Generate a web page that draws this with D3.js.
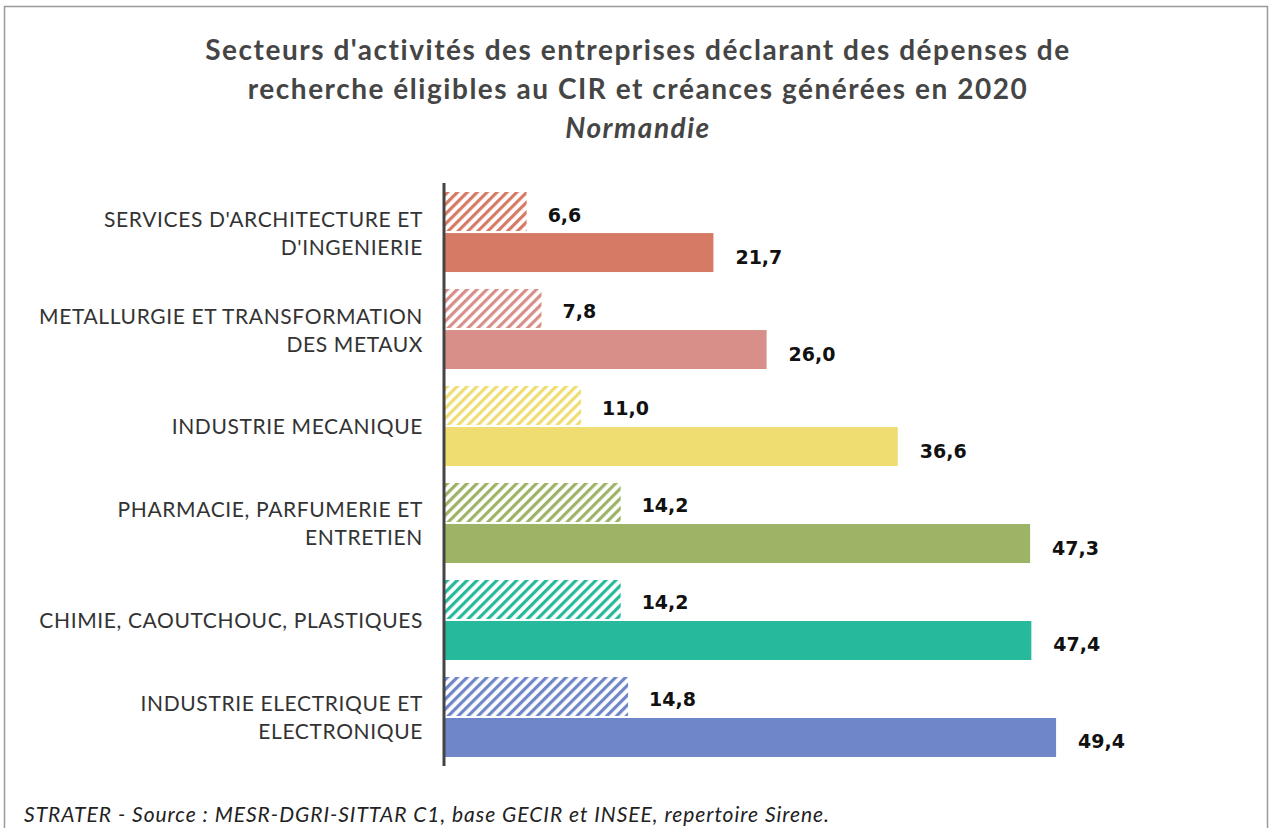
<!DOCTYPE html>
<html>
<head>
<meta charset="utf-8">
<script src="https://cdn.jsdelivr.net/npm/d3@7"></script>
<style>
  body { margin: 0; background: #fff; }
  svg { display: block; }
</style>
</head>
<body>
<svg id="chart" width="1269" height="828"></svg>
<script>
// sectors, top to bottom
const sectors = [
  ["SERVICES D'ARCHITECTURE ET", "D'INGENIERIE"],
  ["METALLURGIE ET TRANSFORMATION", "DES METAUX"],
  ["INDUSTRIE MECANIQUE"],
  ["PHARMACIE, PARFUMERIE ET", "ENTRETIEN"],
  ["CHIMIE, CAOUTCHOUC, PLASTIQUES"],
  ["INDUSTRIE ELECTRIQUE ET", "ELECTRONIQUE"]
];
// hatched bars (upper) and solid bars (lower)
const hatchedValues = [6.6, 7.8, 11.0, 14.2, 14.2, 14.8];
const solidValues = [21.7, 26.0, 36.6, 47.3, 47.4, 49.4];
const sectorColors = ["#d67a66", "#d98f89", "#efdd72", "#9db366", "#27b99c", "#6f86c8"];

const titleLines = [
  "Secteurs d'activités des entreprises déclarant des dépenses de",
  "recherche éligibles au CIR et créances générées en 2020"
];
const subtitle = "Normandie";
const source = "STRATER - Source : MESR-DGRI-SITTAR C1, base GECIR et INSEE, repertoire Sirene.";

const svg = d3.select("#chart");
const fmt = v => d3.format(".1f")(v).replace(".", ",");

// small letter-spacing so a text node spans `target` px
function spacingFor(node, target) {
  const w = node.getComputedTextLength();
  const n = node.textContent.length;
  return Math.max(0, (target - w) / n);
}

// frame
svg.append("rect")
  .attr("x", 4.5).attr("y", 6.5)
  .attr("width", 1263).attr("height", 840)
  .attr("fill", "#fff")
  .attr("stroke", "#9a9a9a")
  .attr("stroke-width", 1.5);

// title
const title = svg.append("text")
  .attr("text-anchor", "middle")
  .attr("font-family", "Lato, sans-serif")
  .attr("font-weight", "bold")
  .attr("font-size", 28)
  .attr("fill", "#454545");
titleLines.forEach((t, i) => {
  title.append("tspan").attr("x", 638).attr("y", 60 + i * 39).text(t);
});
title.append("tspan").attr("x", 638).attr("y", 138)
  .attr("font-style", "italic").text(subtitle);
title.attr("letter-spacing", spacingFor(title.select("tspan").node(), 866));

// scales
const x = d3.scaleLinear().domain([0, 50]).range([445, 445 + 618.5]);
const y = d3.scaleBand()
  .domain(d3.range(sectors.length))
  .range([183, 766])
  .paddingInner(0.175)
  .paddingOuter(0.093);
const inner = d3.scaleBand().domain(["h", "s"]).range([0, y.bandwidth()]).paddingInner(0.05);

// hatch patterns
const defs = svg.append("defs");
sectorColors.forEach((c, i) => {
  const p = defs.append("pattern")
    .attr("id", "hatch" + i)
    .attr("patternUnits", "userSpaceOnUse")
    .attr("width", 7).attr("height", 7)
    .attr("patternTransform", "rotate(45)");
  p.append("rect").attr("width", 7).attr("height", 7).attr("fill", "#fff");
  p.append("rect").attr("width", 3.2).attr("height", 7).attr("fill", c);
});

const groups = svg.selectAll("g.sector")
  .data(sectors)
  .join("g")
  .attr("class", "sector")
  .attr("transform", (d, i) => `translate(0,${y(i)})`);

groups.append("rect")
  .attr("x", x(0))
  .attr("y", inner("h"))
  .attr("width", (d, i) => x(hatchedValues[i]) - x(0))
  .attr("height", inner.bandwidth())
  .attr("fill", (d, i) => `url(#hatch${i})`);

groups.append("rect")
  .attr("x", x(0))
  .attr("y", inner("s"))
  .attr("width", (d, i) => x(solidValues[i]) - x(0))
  .attr("height", inner.bandwidth())
  .attr("fill", (d, i) => sectorColors[i]);

// value labels
const valueFont = sel => sel
  .attr("dominant-baseline", "central")
  .attr("font-family", "'DejaVu Sans', sans-serif")
  .attr("font-weight", "bold")
  .attr("font-size", 19)
  .attr("fill", "#111");

groups.append("text")
  .attr("x", (d, i) => x(hatchedValues[i]) + 21)
  .attr("y", inner("h") + inner.bandwidth() / 2 + 3)
  .call(valueFont)
  .text((d, i) => fmt(hatchedValues[i]));

groups.append("text")
  .attr("x", (d, i) => x(solidValues[i]) + 22)
  .attr("y", inner("s") + inner.bandwidth() / 2 + 4)
  .call(valueFont)
  .text((d, i) => fmt(solidValues[i]));

// category labels
const catLabels = groups.append("text")
  .attr("text-anchor", "end")
  .attr("font-family", "Lato, sans-serif")
  .attr("font-size", 21)
  .attr("fill", "#333")
  .each(function(d) {
    const t = d3.select(this);
    const mid = y.bandwidth() / 2;
    d.forEach((line, k) => {
      t.append("tspan")
        .attr("x", 423)
        .attr("y", mid + (k - (d.length - 1) / 2) * 28)
        .attr("dominant-baseline", "central")
        .text(line);
    });
  });
catLabels.attr("letter-spacing", spacingFor(catLabels.select("tspan").node(), 319));

// vertical axis line
svg.append("line")
  .attr("x1", x(0) - 1).attr("x2", x(0) - 1)
  .attr("y1", 183).attr("y2", 766)
  .attr("stroke", "#444")
  .attr("stroke-width", 3);

// source
const src = svg.append("text")
  .attr("x", 24).attr("y", 822)
  .attr("font-family", "Lato, sans-serif")
  .attr("font-style", "italic")
  .attr("font-size", 21)
  .attr("fill", "#222")
  .text(source);
src.attr("letter-spacing", spacingFor(src.node(), 806));
</script>
</body>
</html>
